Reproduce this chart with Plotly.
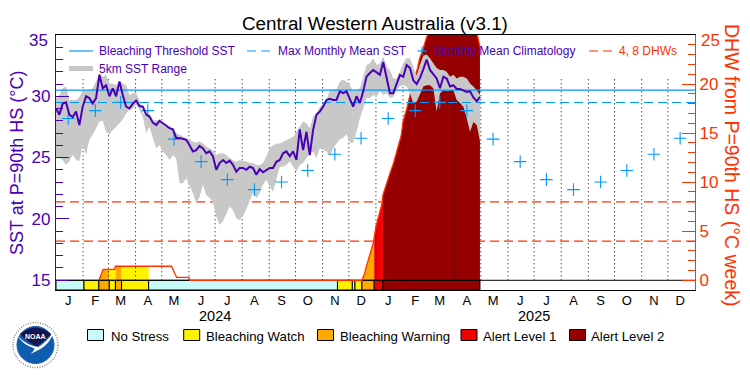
import pandas as pd
import numpy as np
import plotly.graph_objects as go

TITLE = "Central Western Australia (v3.1)"
START = pd.Timestamp("2024-01-01")
STEP_DAYS = 3.82

sst = [29.0,28.5,29.4,29.5,28.5,28.3,28.75,27.65,29.15,30.0,29.85,29.4,29.85,31.75,30.65,30.9,30.0,30.65,30.0,31.2,
       30.1,29.15,29.0,29.4,29.65,29.2,29.15,28.5,28.35,27.85,27.65,28.0,27.8,27.6,27.4,27.3,26.6,26.6,26.5,26.45,
       26.0,25.5,25.6,25.95,25.75,25.35,25.5,25.1,24.0,24.55,24.8,24.55,24.75,24.4,23.85,24.15,24.15,24.0,24.25,24.15,
       23.6,24.05,23.8,23.95,24.15,24.15,24.65,24.8,25.35,25.5,25.1,25.5,24.8,27.3,25.6,27.1,25.2,27.25,28.5,28.75,
       29.15,29.7,29.8,29.7,29.7,
       30.4,30.25,30.4,29.7,29.15,30.0,29.45,30.4,31.6,31.9,32.15,31.95,31.75,32.8,31.5,30.25,30.25,31.05,31.75,31.6,
       32.55,32.3,31.3,31.0,31.5,32.2,33.0,32.15,31.75,31.45,30.65,31.6,31.45,30.8,30.9,30.6,30.6,30.5,30.35,30.4,
       29.9,29.6,29.95]

sst_max = [29.85,30.1,30.65,30.8,29.7,29.7,29.7,29.95,30.4,30.5,30.5,30.65,31.2,31.9,31.6,31.75,31.05,31.05,30.9,31.2,
           31.05,30.9,30.1,30.25,30.25,29.7,28.6,28.45,28.6,28.05,28.05,28.05,27.65,27.5,27.5,27.4,27.0,26.85,26.7,26.6,
           26.45,26.3,26.2,26.3,
           26.17,25.9,25.75,25.6,25.2,25.35,25.35,25.2,24.95,24.8,24.65,24.8,24.7,24.7,24.55,24.55,24.4,24.4,24.55,25.1,
           25.75,26.0,26.15,26.15,26.3,26.45,26.6,26.7,27.1,27.5,27.95,27.8,27.4,28.35,28.6,29.15,29.4,29.7,
           30.5,30.55,30.6,
           31.2,31.35,31.2,30.9,30.4,30.5,30.65,31.6,32.55,32.7,33.1,32.55,32.7,33.25,32.4,32.15,31.45,31.45,32.0,32.7,
           33.1,33.1,32.4,31.7,32.6,33.3,33.4,33.1,32.7,32.3,32.15,32.15,32.0,31.6,31.75,31.45,31.6,31.6,31.45,31.05,
           30.8,30.5,30.1]

sst_min = [24.95,24.95,24.8,24.4,24.7,25.2,24.8,24.7,26.0,25.2,26.45,26.85,27.4,27.95,28.0,27.1,26.85,27.25,27.5,27.8,
           28.1,28.6,28.9,29.0,29.3,28.9,28.35,27.0,27.5,26.6,25.75,26.0,25.5,25.2,24.8,25.2,24.95,22.9,22.9,23.3,
           22.75,22.1,21.3,21.8,22.75,21.95,21.7,21.4,
           20.2,19.5,19.8,20.45,21.0,20.7,20.05,19.9,20.2,20.8,21.4,22.1,21.7,22.1,22.8,23.2,22.65,22.2,23.2,24.25,24.25,24.4,
           24.7,24.25,23.85,24.4,24.55,24.95,25.35,25.5,24.95,25.75,25.6,25.5,25.1,25.75,26.15,
           26.5,26.6,26.9,26.2,26.2,27.1,28.2,29.0,29.85,29.85,30.1,29.95,30.4,30.1,30.25,29.85,29.95,30.5,30.8,30.9,
           30.8,30.25,29.4,29.55,30.25,30.8,30.9,30.9,30.65,28.75,30.25,30.5,30.4,30.5,30.5,29.7,29.45,29.15,28.2,27.1,
           27.9,27.65,26.3]

climatology = [28.18,28.83,29.5,28.83,26.5,24.67,23.2,22.38,23.0,23.94,25.27,26.57]

threshold_sst = 30.5
mmm_sst = 29.49
dhw_marks = [4, 8]

dhw_dates = ["2024-01-01","2024-02-19","2024-02-24","2024-03-08","2024-03-09","2024-05-12","2024-05-18","2024-06-01","2024-06-02",
             "2024-12-16","2024-12-19","2024-12-21","2024-12-25","2024-12-29","2025-01-01","2025-01-05","2025-01-08","2025-01-09",
             "2025-01-13","2025-01-17","2025-01-21","2025-01-26","2025-01-30","2025-02-01","2025-02-05","2025-02-09","2025-02-13",
             "2025-02-17","2025-02-20","2025-02-24","2025-02-28","2025-03-10","2025-04-01","2025-04-27","2025-04-30"]
dhw_values = [0,0,1.12,1.12,1.43,1.43,0.3,0.3,0,
              0,0.7,1.4,2.6,3.8,5.5,6.7,7.85,8.7,
              9.9,10.9,11.9,13.45,14.8,16.2,17.4,18.9,20.4,
              21.4,22.6,23.6,24.8,26.5,27.5,25.0,23.8]

stress_start = ["2024-01-01","2024-02-02","2024-02-19","2024-03-02","2024-03-09","2024-03-16","2024-04-16","2024-11-18",
                "2024-12-05","2024-12-08","2024-12-16","2024-12-30","2025-01-09"]
stress_end = ["2024-02-02","2024-02-19","2024-03-02","2024-03-09","2024-03-16","2024-04-16","2024-11-18","2024-12-05",
              "2024-12-08","2024-12-16","2024-12-30","2025-01-09","2025-04-30"]
stress_level = [0,1,2,1,2,1,0,1,0,1,2,3,4]
stress_names = ["No Stress","Bleaching Watch","Bleaching Warning","Alert Level 1","Alert Level 2"]
stress_colors = ["#c8fafa","#fff200","#ffaa00","#f00000","#960000"]

month_letters = list("JFMAMJJASOND")
years = [2024, 2025]
sst_ticks = [15, 20, 25, 30, 35]
dhw_ticks = [0, 5, 10, 15, 20, 25]

PURPLE = "#4a00b4"
RED = "#ff3300"
BLUE = "#0099ff"
GRAY = "#c8c8c8"
FONT = "Liberation Sans"

W, H = 750, 375
ML, MR, MT, MB = 56, 55, 35, 85
def ax(x): return (x - ML) / (W - ML - MR)
def ay(y): return (H - MB - y) / (H - MT - MB)

sst_dates = [START + pd.Timedelta(days=STEP_DAYS * k) for k in range(len(sst))]
assert len(sst) == len(sst_max) == len(sst_min)

dhw_t = pd.to_datetime(dhw_dates)
def dhw_at(t):
    base = pd.Timestamp("2024-01-01")
    return float(np.interp((pd.Timestamp(t) - base).days, [(d - base).days for d in dhw_t], dhw_values))

month_starts = pd.date_range("2024-01-01", "2025-12-01", freq="MS")
month_mids = month_starts + pd.Timedelta(days=14)

fig = go.Figure()

for m in dhw_marks:
    fig.add_trace(go.Scatter(x=["2024-01-01", "2026-01-01"], y=[m, m], mode="lines",
                             line=dict(color=RED, width=1.2, dash="9px,5px"), hoverinfo="skip"))

for s, e, lev in zip(stress_start, stress_end, stress_level):
    if lev == 0:
        continue
    inside = [(t, v) for t, v in zip(dhw_t, dhw_values) if pd.Timestamp(s) < t < pd.Timestamp(e)]
    xs = [pd.Timestamp(s)] + [t for t, _ in inside] + [pd.Timestamp(e)]
    ys = [dhw_at(s)] + [v for _, v in inside] + [dhw_at(e)]
    fig.add_trace(go.Scatter(x=xs, y=ys, mode="lines", fill="tozeroy", line=dict(width=0),
                             fillcolor=stress_colors[lev], hoverinfo="skip"))

vx, vy = [], []
for d in month_starts[1:]:
    vx += [d, d, None]
    vy += [0, 20.6, None]
fig.add_trace(go.Scatter(x=vx, y=vy, mode="lines", line=dict(color="#000000", width=1, dash="1px,3px"),
                         hoverinfo="skip"))

BAR_BOTTOM = -0.99
for s, e, lev in zip(stress_start, stress_end, stress_level):
    fig.add_trace(go.Scatter(x=[s, e, e, s, s], y=[BAR_BOTTOM, BAR_BOTTOM, 0, 0, BAR_BOTTOM], mode="lines",
                             fill="toself", fillcolor=stress_colors[lev],
                             line=dict(color="#000000", width=1), hoverinfo="skip"))

fig.add_trace(go.Scatter(x=["2024-01-01", "2026-01-01"], y=[0, 0], mode="lines",
                         line=dict(color="#000000", width=1), hoverinfo="skip"))

# DHW line: only where heat stress has accumulated (a zero stretch leaves a gap)
line_y = [None if v == 0 and (i == 0 or dhw_values[i - 1] == 0) and
          (i == len(dhw_values) - 1 or dhw_values[i + 1] == 0) else v for i, v in enumerate(dhw_values)]
fig.add_trace(go.Scatter(x=dhw_t, y=line_y, mode="lines", line=dict(color=RED, width=1.3), hoverinfo="skip"))

fig.add_trace(go.Scatter(x=sst_dates, y=sst_min, mode="lines", yaxis="y2", line=dict(width=0),
                         hoverinfo="skip"))
fig.add_trace(go.Scatter(x=sst_dates, y=sst_max, mode="lines", yaxis="y2", line=dict(width=0),
                         fill="tonexty", fillcolor=GRAY, hoverinfo="skip"))
fig.add_trace(go.Scatter(x=["2024-01-01", "2026-01-01"], y=[threshold_sst, threshold_sst], yaxis="y2", mode="lines",
                         line=dict(color=BLUE, width=1.2), hoverinfo="skip"))
fig.add_trace(go.Scatter(x=["2024-01-01", "2026-01-01"], y=[mmm_sst, mmm_sst], yaxis="y2", mode="lines",
                         line=dict(color=BLUE, width=1.2, dash="9px,5px"), hoverinfo="skip"))
fig.add_trace(go.Scatter(x=month_mids, y=climatology * 2, yaxis="y2", mode="markers",
                         marker=dict(symbol="cross-thin", size=9, line=dict(color=BLUE, width=1.1)),
                         hoverinfo="skip"))
fig.add_trace(go.Scatter(x=sst_dates, y=sst, yaxis="y2", mode="lines",
                         line=dict(color=PURPLE, width=2), hoverinfo="skip"))

annotations = []
def label(x, y, text, color="#000000", size=12, anchor="left", angle=0):
    annotations.append(dict(xref="paper", yref="paper", x=ax(x), y=ay(y), text=text, showarrow=False,
                            xanchor=anchor, yanchor="middle", textangle=angle,
                            font=dict(family=FONT, size=size, color=color)))

shapes = []
def seg(x0, x1, y, color, width=1.2, dash=None):
    shapes.append(dict(type="line", xref="paper", yref="paper", x0=ax(x0), x1=ax(x1), y0=ay(y), y1=ay(y),
                       line=dict(color=color, width=width, dash=dash)))
def box(x0, x1, y0, y1, color):
    shapes.append(dict(type="rect", xref="paper", yref="paper", x0=ax(x0), x1=ax(x1), y0=ay(y0), y1=ay(y1),
                       fillcolor=color, line=dict(color="#000000", width=1)))

label(375, 24, TITLE, size=18.8, anchor="center")
label(17, 163, "SST at P=90th HS (°C)", PURPLE, size=18, anchor="center", angle=-90)
label(732, 165, "DHW from P=90th HS (°C week)", RED, size=19.5, anchor="center", angle=90)
# the topmost tick labels sit just inside the frame
label(49.5, 40, str(sst_ticks[-1]), PURPLE, size=17, anchor="right")
label(699, 40, str(dhw_ticks[-1]), RED, size=17, anchor="left")

seg(69, 93, 51, BLUE)
label(96.5, 51, "Bleaching Threshold SST", PURPLE)
seg(247, 270, 51, BLUE, dash="9px,5px")
label(275.5, 51, "Max Monthly Mean SST", PURPLE)
seg(417.5, 426.5, 51, BLUE)
shapes.append(dict(type="line", xref="paper", yref="paper", x0=ax(422), x1=ax(422),
                   y0=ay(46.5), y1=ay(55.5), line=dict(color=BLUE, width=1.1)))
label(432.5, 51, "Monthly Mean Climatology", PURPLE)
seg(589, 612, 51, RED, dash="9px,5px")
label(617, 51, "4, 8 DHWs", RED)
seg(69, 93, 68.5, GRAY, width=5)
label(96.5, 69, "5km SST Range", PURPLE)

legend_swatch = [87.5, 183.7, 317.5, 461, 569.5]
legend_text = [108.5, 203.5, 337.5, 481, 588.5]
for x0, xt, name, col in zip(legend_swatch, legend_text, stress_names, stress_colors):
    box(x0, x0 + 16, 329.5, 340.5, col)
    label(xt, 336, name, size=13.2)

for yr in years:
    annotations.append(dict(xref="x", yref="paper", x=f"{yr}-07-01", y=ay(316), text=str(yr), showarrow=False,
                            xanchor="center", yanchor="middle", font=dict(family=FONT, size=14.5, color="#000000")))

cx, cy = 35.5, 345
def circle(r, fill, line=None, lw=1, dash=None):
    shapes.append(dict(type="circle", xref="paper", yref="paper", x0=ax(cx - r), x1=ax(cx + r),
                       y0=ay(cy + r), y1=ay(cy - r), fillcolor=fill,
                       line=dict(color=line or fill, width=lw, dash=dash)))
def poly(points, fill):
    d = ""
    for p in points:
        nums = p[1:]
        coords = " ".join(f"{ax(cx + nums[j])},{ay(cy + nums[j + 1])}" for j in range(0, len(nums), 2))
        d += f"{p[0]} {coords} "
    shapes.append(dict(type="path", xref="paper", yref="paper", path=d + "Z", fillcolor=fill, line=dict(width=0)))
circle(22.5, "#ffffff", "#8a8a8a", 1.5, "1px,1.5px")
circle(18.5, "#0e5cb0")
poly([("M", -15.5, -11), ("Q", 0, -24, 15.5, -11), ("Q", 8, -3, 1, 1.5), ("Q", -8, -3, -15.5, -11)], "#14144f")
poly([("M", -18, -9), ("Q", -8, 1, 3, 2), ("Q", 11, -3, 18, -13), ("Q", 15, -2, 5, 4), ("L", -5, 9),
      ("Q", 1, 3, -2, 3), ("Q", -12, 0, -18, -9)], "#ffffff")
annotations.append(dict(xref="paper", yref="paper", x=ax(cx), y=ay(cy - 8.5), text="<b>NOAA</b>", showarrow=False,
                        xanchor="center", yanchor="middle", font=dict(family=FONT, size=7, color="#ffffff")))

fig.update_layout(
    width=W, height=H, autosize=False, showlegend=False, paper_bgcolor="#ffffff", plot_bgcolor="#ffffff",
    margin=dict(l=ML, r=MR, t=MT, b=MB, pad=0),
    font=dict(family=FONT),
    annotations=annotations, shapes=shapes,
    xaxis=dict(type="date", range=["2024-01-01", "2026-01-01"], showgrid=False, zeroline=False,
               tickmode="array", tickvals=list(month_mids), ticktext=month_letters * 2, ticks="",
               tickangle=0, tickfont=dict(family=FONT, size=13, color="#000000"), ticklabelstandoff=-2,
               showline=True, linecolor="#000000", linewidth=1, mirror=True),
    yaxis=dict(side="right", range=[-0.99, 25], showgrid=False, zeroline=False,
               tickmode="array", tickvals=dhw_ticks, ticktext=[str(t) for t in dhw_ticks[:-1]] + [""],
               ticks="inside", ticklen=13, tickwidth=1,
               tickcolor=RED, tickfont=dict(family=FONT, size=17, color=RED),
               minor=dict(tickmode="array", tickvals=list(range(0, 26)), ticks="inside", ticklen=7,
                          tickcolor=RED, tickwidth=1),
               showline=True, linecolor=RED, linewidth=1.2),
    yaxis2=dict(overlaying="y", side="left", range=[14.19, 35], showgrid=False, zeroline=False,
                tickmode="array", tickvals=sst_ticks, ticktext=[str(t) for t in sst_ticks[:-1]] + [""],
                ticks="inside", ticklen=13, tickwidth=1,
                tickcolor=PURPLE, tickfont=dict(family=FONT, size=17, color=PURPLE), ticklabelstandoff=1,
                minor=dict(tickmode="array", tickvals=list(range(15, 36)), ticks="inside", ticklen=7,
                           tickcolor=PURPLE, tickwidth=1),
                showline=True, linecolor=PURPLE, linewidth=1.2),
)

fig.write_html("out.html", config={"displayModeBar": False}, post_script="document.body.style.margin='0';")
